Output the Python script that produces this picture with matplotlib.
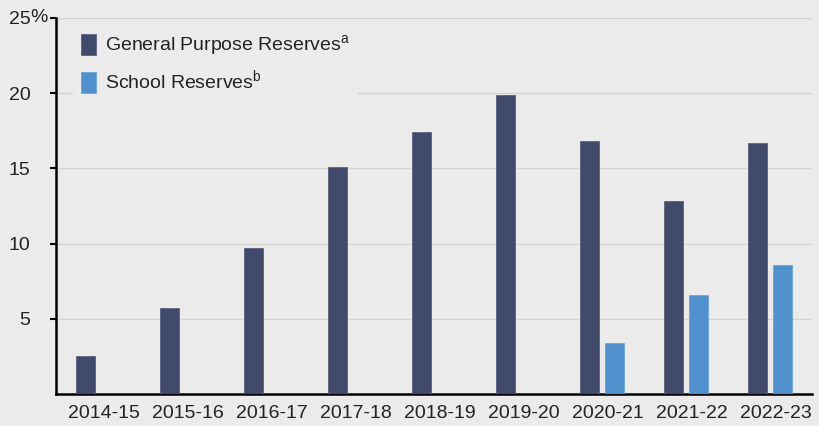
import matplotlib.pyplot as plt
import matplotlib.transforms as mtransforms
import numpy as np

plt.rcParams['font.family'] = ['Liberation Sans', 'DejaVu Sans']
plt.rcParams['mathtext.fontset'] = 'custom'
plt.rcParams['mathtext.rm'] = 'Liberation Sans'

years = ['2014-15', '2015-16', '2016-17', '2017-18', '2018-19',
         '2019-20', '2020-21', '2021-22', '2022-23']
general = [2.5, 5.7, 9.7, 15.1, 17.4, 19.9, 16.8, 12.8, 16.7]
school = [np.nan, np.nan, np.nan, np.nan, np.nan, np.nan, 3.4, 6.6, 8.6]
yticks = [5, 10, 15, 20, 25]

bg = '#ebebeb'
dark = '#414a6b'
blue = '#5090cc'
txt = '#222222'

fig = plt.figure(figsize=(8.2, 4.26), dpi=100, facecolor=bg)
ax = fig.add_axes([56 / 820, 32 / 426, 756 / 820, 376 / 426])
ax.set_facecolor(bg)

x = np.arange(len(years))
w = 0.226
ax.bar(x - 0.143, general, w, color=dark, edgecolor='#5a6283', linewidth=0.6,
       label=r'General Purpose Reserves$^{\rm a}$', zorder=3)
ax.bar(x + 0.143, school, w, color=blue, edgecolor='#6aa3d6', linewidth=0.6,
       label=r'School Reserves$^{\rm b}$', zorder=3)

ax.set_xlim(-0.5, len(years) - 0.5)
ax.set_ylim(0, 25)
ax.set_xticks(x)
ax.set_xticklabels(years, fontsize=14, color=txt)
ax.tick_params(axis='x', length=0, pad=8)
shift = mtransforms.ScaledTranslation(6 / 100, 0, fig.dpi_scale_trans)
for lbl in ax.get_xticklabels():
    lbl.set_transform(lbl.get_transform() + shift)

ax.set_yticks(yticks)
ax.set_yticklabels([str(v) for v in yticks], fontsize=14, color=txt)
ax.tick_params(axis='y', length=4, width=1.5, pad=14.5, direction='out')
ax.annotate('%', xy=(0, 25), xycoords=('axes fraction', 'data'),
            xytext=(-18.7, 0), textcoords='offset points',
            ha='left', va='center', fontsize=14, color=txt)

ax.grid(axis='y', color='#d2d2d2', linewidth=1, zorder=0)
for s in ['top', 'right']:
    ax.spines[s].set_visible(False)
for s in ['left', 'bottom']:
    ax.spines[s].set_linewidth(1.8)
    ax.spines[s].set_color('black')

leg = ax.legend(loc='upper left', bbox_to_anchor=(0.01, 1.005), fontsize=14,
                frameon=True, facecolor=bg, edgecolor='none', framealpha=1,
                handlelength=0.75, handleheight=1.3, handletextpad=0.5,
                labelspacing=0.5, borderpad=0.4)
leg.set_zorder(5)
for t in leg.get_texts():
    t.set_color(txt)

fig.savefig('out.png', dpi=100, facecolor=bg)
